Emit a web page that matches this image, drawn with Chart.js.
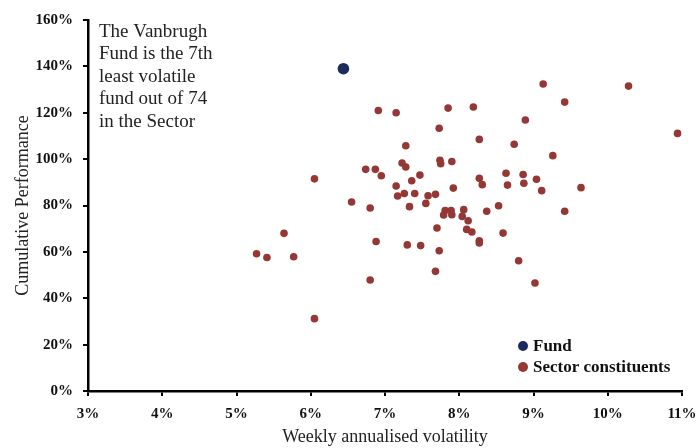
<!DOCTYPE html>
<html>
<head>
<meta charset="utf-8">
<script src="https://cdn.jsdelivr.net/npm/chart.js@4"></script>
<style>
  html, body { margin: 0; padding: 0; background: #fff; }
  #wrap { width: 699px; height: 448px; position: relative; }
</style>
</head>
<body>
<div id="wrap"><canvas id="scatter" width="699" height="448"></canvas></div>
<script>
// values (percent)
const fundVolatility = [6.44];
const fundPerformance = [139];

const sectorVolatility = [
  6.91, 7.15, 7.85, 7.73, 7.28, 7.23, 7.28, 6.74, 6.87, 6.95,
  7.47, 7.36, 7.15, 7.74, 7.75, 7.90, 7.92, 6.05, 6.55, 6.80,
  7.17, 7.26, 7.40, 7.33, 7.55, 7.58, 7.68, 7.81, 7.89, 7.79,
  7.90, 9.13, 10.28, 9.42, 8.19, 8.89, 10.94, 8.27, 8.74, 9.26,
  8.27, 8.31, 8.63, 8.86, 8.65, 8.87, 9.04, 9.11, 9.64, 8.53,
  8.37, 9.42, 8.06, 8.04, 8.12, 7.70, 8.10, 8.17, 8.59, 8.27,
  8.27, 5.64, 6.88, 7.30, 7.48, 7.73, 5.27, 5.41, 5.77, 7.68,
  6.80, 6.05, 8.80, 9.02
];
const sectorPerformance = [
  121, 120, 122, 113.3, 105.8, 98.3, 96.6, 95.6, 95.6, 92.8,
  93.1, 90.7, 88.4, 99.5, 98.0, 99.0, 87.5, 91.5, 81.5, 78.9,
  84.1, 85.2, 85.2, 79.5, 80.9, 84.2, 84.8, 77.8, 77.8, 75.9,
  76.0, 132.4, 131.5, 124.6, 122.5, 116.9, 111.1, 108.5, 106.4, 101.5,
  91.7, 89.0, 93.9, 93.4, 88.8, 89.6, 91.3, 86.4, 87.7, 79.9,
  77.5, 77.5, 78.2, 75.3, 73.4, 70.3, 69.7, 68.6, 68.1, 64.8,
  63.8, 68.0, 64.5, 63.0, 62.7, 60.5, 59.2, 57.6, 57.9, 51.6,
  47.9, 31.2, 56.2, 46.6
];

const xTicks = [3, 4, 5, 6, 7, 8, 9, 10, 11];
const yTicks = [0, 20, 40, 60, 80, 100, 120, 140, 160];
const noteLines = ['The Vanbrugh', 'Fund is the 7th', 'least volatile', 'fund out of 74', 'in the Sector'];

const fundColor = '#1c2b5e';
const sectorColor = '#953735';
const serif = '"Liberation Serif", "DejaVu Serif", serif';

function toPoints(xs, ys) {
  return xs.map((x, i) => ({ x: x, y: ys[i] }));
}

const notesAndLegend = {
  id: 'notesAndLegend',
  afterDraw(chart) {
    const ctx = chart.ctx;
    const area = chart.chartArea;
    ctx.save();
    ctx.fillStyle = '#222';
    ctx.font = '19px ' + serif;
    ctx.textBaseline = 'middle';
    ctx.textAlign = 'left';
    noteLines.forEach((line, i) => {
      ctx.fillText(line, area.left + 11, area.top + 12 + i * 22.5);
    });

    // legend
    const lx = area.left + 435;
    chart.data.datasets.forEach((ds, i) => {
      const ly = area.top + 326 + i * 21;
      ctx.beginPath();
      ctx.fillStyle = ds.backgroundColor;
      ctx.arc(lx, ly, 5, 0, Math.PI * 2);
      ctx.fill();
      ctx.fillStyle = '#111';
      ctx.font = 'bold 17px ' + serif;
      ctx.fillText(ds.label, lx + 10, ly + 1);
    });
    ctx.restore();
  }
};

new Chart(document.getElementById('scatter'), {
  type: 'scatter',
  data: {
    datasets: [
      {
        label: 'Fund',
        data: toPoints(fundVolatility, fundPerformance),
        backgroundColor: fundColor,
        borderWidth: 0,
        pointRadius: 5.8
      },
      {
        label: 'Sector constituents',
        data: toPoints(sectorVolatility, sectorPerformance),
        backgroundColor: sectorColor,
        borderWidth: 0,
        pointRadius: 3.8
      }
    ]
  },
  options: {
    responsive: false,
    animation: false,
    layout: { padding: { top: 20, right: 17, left: 12, bottom: 0 } },
    plugins: {
      legend: { display: false },
      tooltip: { enabled: false }
    },
    scales: {
      x: {
        type: 'linear',
        min: xTicks[0],
        max: xTicks[xTicks.length - 1],
        afterBuildTicks: axis => { axis.ticks = xTicks.map(v => ({ value: v })); },
        afterFit: axis => {
          axis.height = 57;
          axis.paddingLeft = 0;
          axis.paddingRight = 0;
        },
        border: { color: '#000', width: 2.5 },
        grid: { drawOnChartArea: false, drawTicks: true, tickLength: 5, color: '#000', lineWidth: 2 },
        ticks: {
          autoSkip: false,
          color: '#111',
          padding: 9,
          maxRotation: 0,
          font: { family: serif, size: 15, weight: 'bold' },
          callback: v => v + '%'
        },
        title: {
          display: true,
          text: 'Weekly annualised volatility',
          color: '#222',
          font: { family: serif, size: 18 },
          padding: { top: 3, bottom: 0 }
        }
      },
      y: {
        min: yTicks[0],
        max: yTicks[yTicks.length - 1],
        afterBuildTicks: axis => { axis.ticks = yTicks.map(v => ({ value: v })); },
        afterFit: axis => {
          axis.width = 76;
          axis.paddingTop = 0;
          axis.paddingBottom = 0;
        },
        border: { color: '#000', width: 2.5 },
        grid: { drawOnChartArea: false, drawTicks: true, tickLength: 5, color: '#000', lineWidth: 2 },
        ticks: {
          autoSkip: false,
          color: '#111',
          padding: 10,
          font: { family: serif, size: 15, weight: 'bold' },
          callback: v => v + '%'
        },
        title: {
          display: true,
          text: 'Cumulative Performance',
          color: '#222',
          font: { family: serif, size: 18 },
          padding: { top: 0, bottom: 2 }
        }
      }
    }
  },
  plugins: [notesAndLegend]
});
</script>
</body>
</html>
